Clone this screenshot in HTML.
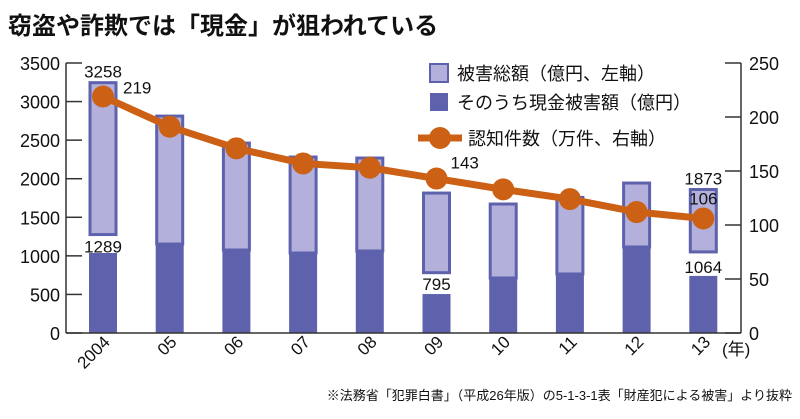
<!DOCTYPE html>
<html><head><meta charset="utf-8"><style>
body{margin:0;background:#fff;}
svg text{font-family:"Liberation Sans","Noto Sans CJK JP",sans-serif;fill:#111;}
</style></head><body>
<svg id="c" width="800" height="414" xmlns="http://www.w3.org/2000/svg">
<text x="8" y="34" font-size="24" font-weight="bold">窃盗や詐欺では「現金」が狙われている</text>
<g id="plot"></g>
<g>
<rect x="430" y="64" width="18" height="18" fill="#b3b0dc" stroke="#5e62ad" stroke-width="2"/>
<text x="457" y="80" font-size="18">被害総額（億円、左軸）</text>
<rect x="430" y="93" width="18" height="18" fill="#5e62ad"/>
<text x="457" y="109" font-size="18">そのうち現金被害額（億円）</text>
<line x1="418" y1="138" x2="462" y2="138" stroke="#cc6014" stroke-width="7"/>
<circle cx="440" cy="138" r="11" fill="#cc6014"/>
<text x="468" y="145" font-size="18">認知件数（万件、右軸）</text>
</g>
<text x="792" y="400" font-size="13" text-anchor="end">※法務省「犯罪白書」（平成26年版）の5-1-3-1表「財産犯による被害」より抜粋</text>
</svg>
<script>
const years=["2004","05","06","07","08","09","10","11","12","13"];
const totals=[3258,2825,2475,2294,2281,1827,1685,1770,1957,1873];
const cashBars=[1037,1166,1089,1050,1076,505,726,778,1128,740];
const cashLabeled=[1289,1166,1089,1050,1076,795,726,778,1128,1064];
const counts=[219,191,171,157,153,143,133,124,112,106];
const leftTicks=[0,500,1000,1500,2000,2500,3000,3500];
const rightTicks=[0,50,100,150,200,250];
const NS="http://www.w3.org/2000/svg";
const g=document.getElementById('plot');
const X0=66,X1=741,Y0=333,Y1=63;
const yL=v=>Y0-(v/3500)*(Y0-Y1);
const yR=v=>Y0-(v/250)*(Y0-Y1);
const xC=i=>103+i*66.7;
function mk(t,a,p){const e=document.createElementNS(NS,t);for(const k in a)e.setAttribute(k,a[k]);(p||g).appendChild(e);return e;}
years.forEach((y,i)=>{
 const x=xC(i)-14,w=28;
 const b1=mk('rect',{x:x+1,y:yL(totals[i])+1,width:w-2,height:yL(cashLabeled[i])-yL(totals[i]),fill:'#b3b0dc',stroke:'#5e62ad','stroke-width':3});
 
 
 const b2=mk('rect',{x:x,y:yL(cashBars[i]),width:w,height:Y0-yL(cashBars[i]),fill:'#5e62ad'});
 
 
 const t=mk('text',{x:0,y:0,'font-size':17,'text-anchor':'end',transform:`translate(${xC(i)+8},${Y0+10}) rotate(-45)`});
 t.textContent=y;
 
 
});
const yr=mk('text',{x:722,y:355,'font-size':17});yr.textContent='(年)';


const la=mk('line',{x1:X0,y1:Y1,x2:X0,y2:Y0,stroke:'#333','stroke-width':1.5});


const ra=mk('line',{x1:X1,y1:Y1,x2:X1,y2:Y0,stroke:'#333','stroke-width':1.5});


const ba=mk('line',{x1:X0,y1:Y0,x2:X1,y2:Y0,stroke:'#333','stroke-width':1.5});


leftTicks.forEach(v=>{
 mk('line',{x1:X0,y1:yL(v),x2:X0+16,y2:yL(v),stroke:'#333','stroke-width':1.5});
 const t=mk('text',{x:X0-6,y:yL(v)+7,'font-size':18,'text-anchor':'end'});t.textContent=v;
 
 
});
rightTicks.forEach(v=>{
 mk('line',{x1:X1-16,y1:yR(v),x2:X1,y2:yR(v),stroke:'#333','stroke-width':1.5});
 const t=mk('text',{x:X1+8,y:yR(v)+7,'font-size':18});t.textContent=v;
 
 
});
const pts=counts.map((v,i)=>xC(i)+','+yR(v)).join(' ');
const pl=mk('polyline',{points:pts,fill:'none',stroke:'#cc6014','stroke-width':7,'stroke-linejoin':'round'});


counts.forEach((v,i)=>{
 const c=mk('circle',{cx:xC(i),cy:yR(v),r:11,fill:'#cc6014'});
 
 
});
function lab(txt,x,y,anchor,name){const t=mk('text',{x:x,y:y,'font-size':17,'text-anchor':anchor||'middle'});t.textContent=txt;
 
 }
lab(totals[0],xC(0),yL(totals[0])-4,'middle','label-total-2004');
lab(counts[0],xC(0)+20,yR(counts[0])-3,'start','label-count-2004');
lab(cashLabeled[0],xC(0),yL(cashLabeled[0])+19,'middle','label-cash-2004');
lab(counts[5],xC(5)+14,yR(counts[5])-10,'start','label-count-09');
lab(cashLabeled[5],xC(5),yL(cashBars[5])-4,'middle','label-cash-09');
lab(totals[9],xC(9),yL(totals[9])-4,'middle','label-total-13');
lab(counts[9],xC(9),yR(counts[9])-14,'middle','label-count-13');
lab(cashLabeled[9],xC(9),yL(cashBars[9])-3,'middle','label-cash-13');
</script>
</body></html>
